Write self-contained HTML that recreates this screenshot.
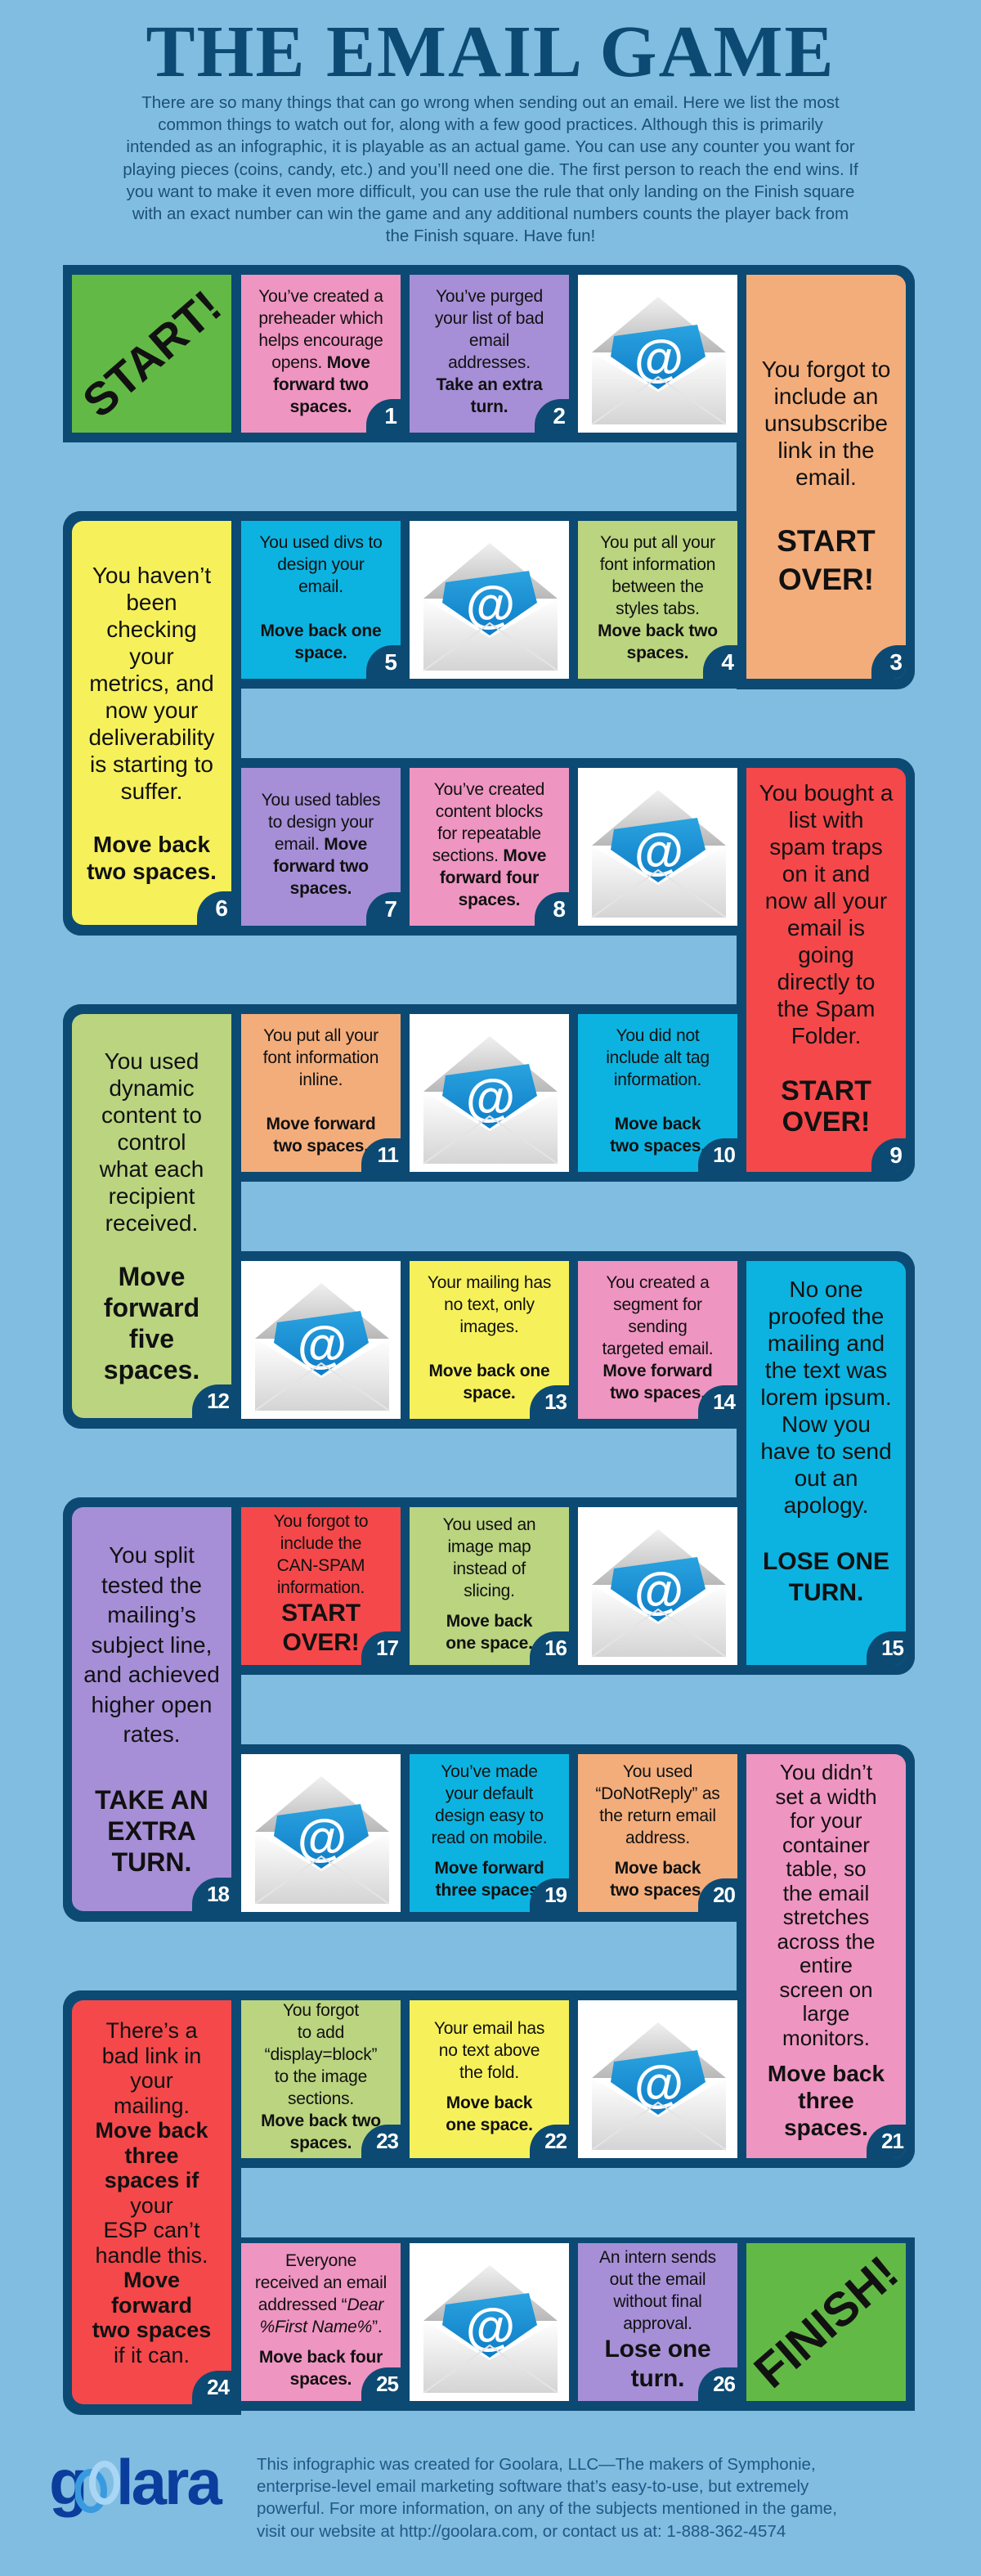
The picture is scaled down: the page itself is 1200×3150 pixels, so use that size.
<!DOCTYPE html>
<html><head><meta charset="utf-8">
<style>
*{margin:0;padding:0;box-sizing:border-box}
body{width:1200px;height:3150px;background:#80bde1;position:relative;overflow:hidden;font-family:"Liberation Sans",sans-serif;color:#111}
.n{position:absolute;background:#0c4a73}
.c{position:absolute;width:195px;height:193px;display:flex;flex-direction:column;justify-content:center;align-items:center;text-align:center;white-space:nowrap;overflow:hidden}
.t{height:494px}
.s{font-size:21px;line-height:27px;letter-spacing:-0.2px;padding-bottom:6px}
.L{font-size:28px;line-height:33px}
.tab{position:absolute;right:0;bottom:0;width:42px;height:41px;background:#0c4a73;border-top-left-radius:32px;color:#fff;font-weight:bold;font-size:28px;line-height:41px;text-align:right;padding-right:5px;letter-spacing:-1px}
.tab.w{width:48px;padding-right:3px;font-size:26px}
.env{background:#fff}
.env svg{position:absolute;left:0;top:0}
.pk{background:#ef95c1}.pu{background:#a68fd7}.or{background:#f3ad7b}.ye{background:#f6f15b}.cy{background:#0cb3e0}.lg{background:#bbd480}.rd{background:#f5484b}.gr{background:#63b946}
.g1{margin-top:27px}
.rot{font-weight:bold;transform:rotate(-41deg);color:#111}
</style></head><body>

<div style="position:absolute;left:0;top:14px;width:1200px;text-align:center;font-family:'Liberation Serif',serif;font-weight:bold;font-size:90px;letter-spacing:2px;color:#0d4a73;line-height:100px">THE EMAIL GAME</div>
<div style="position:absolute;left:0;top:112px;width:1200px;text-align:center;font-size:20.5px;line-height:27.2px;color:#1d4f78">There are so many things that can go wrong when sending out an email. Here we list the most<br>common things to watch out for, along with a few good practices. Although this is primarily<br>intended as an infographic, it is playable as an actual game. You can use any counter you want for<br>playing pieces (coins, candy, etc.) and you’ll need one die. The first person to reach the end wins. If<br>you want to make it even more difficult, you can use the rule that only landing on the Finish square<br>with an exact number can win the game and any additional numbers counts the player back from<br>the Finish square. Have fun!</div>

<!-- bands -->
<div class="n" style="left:77px;top:324px;width:1042px;height:217px;border-top-right-radius:22px"></div>
<div class="n" style="left:901px;top:324px;width:218px;height:519px;border-radius:0 22px 22px 0"></div>
<div class="n" style="left:77px;top:625px;width:1042px;height:217px;border-radius:22px 0 22px 0"></div>
<div class="n" style="left:77px;top:625px;width:218px;height:519px;border-radius:22px 0 0 22px"></div>
<div class="n" style="left:77px;top:927px;width:1042px;height:217px;border-radius:0 22px 0 22px"></div>
<div class="n" style="left:901px;top:927px;width:218px;height:518px;border-radius:0 22px 22px 0"></div>
<div class="n" style="left:77px;top:1228px;width:1042px;height:217px;border-radius:22px 0 22px 0"></div>
<div class="n" style="left:77px;top:1228px;width:218px;height:519px;border-radius:22px 0 0 22px"></div>
<div class="n" style="left:77px;top:1530px;width:1042px;height:217px;border-radius:0 22px 0 22px"></div>
<div class="n" style="left:901px;top:1530px;width:218px;height:518px;border-radius:0 22px 22px 0"></div>
<div class="n" style="left:77px;top:1831px;width:1042px;height:217px;border-radius:22px 0 22px 0"></div>
<div class="n" style="left:77px;top:1831px;width:218px;height:519px;border-radius:22px 0 0 22px"></div>
<div class="n" style="left:77px;top:2133px;width:1042px;height:217px;border-radius:0 22px 0 22px"></div>
<div class="n" style="left:901px;top:2133px;width:218px;height:518px;border-radius:0 22px 22px 0"></div>
<div class="n" style="left:77px;top:2434px;width:1042px;height:217px;border-radius:22px 0 22px 0"></div>
<div class="n" style="left:77px;top:2434px;width:218px;height:519px;border-radius:22px 0 0 22px"></div>
<div class="n" style="left:77px;top:2736px;width:1042px;height:212px;border-radius:0 0 0 22px"></div>

<!-- ROW 0 -->
<div class="c gr" style="left:88px;top:336px"><div class="rot" style="font-size:56px">START!</div></div>
<div class="c s pk" style="left:295px;top:336px"><div>You’ve created a<br>preheader which<br>helps encourage<br>opens. <b>Move</b><br><b>forward two</b><br><b>spaces.</b></div><div class="tab">1</div></div>
<div class="c s pu" style="left:501px;top:336px"><div>You’ve purged<br>your list of bad<br>email<br>addresses.<br><b>Take an extra<br>turn.</b></div><div class="tab">2</div></div>
<div class="c env" style="left:707px;top:336px"><svg width="195" height="193" viewBox="0 0 195 193"><defs><linearGradient id="fl" x1="0" y1="0" x2="0" y2="1"><stop offset="0" stop-color="#f0f0f0"/><stop offset="1" stop-color="#b8b8b8"/></linearGradient><linearGradient id="bd" x1="0" y1="0" x2="0" y2="1"><stop offset="0" stop-color="#ffffff"/><stop offset="1" stop-color="#d4d4d4"/></linearGradient><linearGradient id="cd" x1="0" y1="0" x2="0" y2="1"><stop offset="0" stop-color="#2aa3e0"/><stop offset="1" stop-color="#0e7cc6"/></linearGradient></defs><polygon points="17,95 98,27 181,95" fill="url(#fl)"/><polygon points="44,75 146,61 156,100 98,140 40,100" fill="url(#cd)"/><text x="99" y="123" font-family="Liberation Sans,sans-serif" font-weight="bold" font-size="62" fill="#fff" text-anchor="middle">@</text><polygon points="17,95 98,143 181,95 181,183 17,183" fill="url(#bd)"/><polyline points="17,183 98,125 181,183" fill="none" stroke="#e4e4e4" stroke-width="2"/></svg></div>
<div class="c t or" style="left:913px;top:336px;border-top-right-radius:14px;border-bottom-right-radius:14px"><div class="L">You forgot to<br>include an<br>unsubscribe<br>link in the<br>email.</div><div style="font-weight:bold;font-size:37px;line-height:47px;margin-top:38px">START<br>OVER!</div><div class="tab">3</div></div>

<!-- ROW 1 -->
<div class="c t ye" style="left:88px;top:637px;border-top-left-radius:14px;border-bottom-left-radius:14px"><div class="L">You haven’t<br>been<br>checking<br>your<br>metrics, and<br>now your<br>deliverability<br>is starting to<br>suffer.</div><div class="L" style="font-weight:bold;margin-top:32px">Move back<br>two spaces.</div><div class="tab">6</div></div>
<div class="c s cy" style="left:295px;top:637px"><div>You used divs to<br>design your<br>email.</div><div class="g1"><b>Move back one<br>space.</b></div><div class="tab">5</div></div>
<div class="c env" style="left:501px;top:637px"><svg width="195" height="193" viewBox="0 0 195 193"><polygon points="17,95 98,27 181,95" fill="url(#fl)"/><polygon points="44,75 146,61 156,100 98,140 40,100" fill="url(#cd)"/><text x="99" y="123" font-family="Liberation Sans,sans-serif" font-weight="bold" font-size="62" fill="#fff" text-anchor="middle">@</text><polygon points="17,95 98,143 181,95 181,183 17,183" fill="url(#bd)"/><polyline points="17,183 98,125 181,183" fill="none" stroke="#e4e4e4" stroke-width="2"/></svg></div>
<div class="c s lg" style="left:707px;top:637px"><div>You put all your<br>font information<br>between the<br>styles tabs.<br><b>Move back two<br>spaces.</b></div><div class="tab">4</div></div>

<!-- ROW 2 -->
<div class="c s pu" style="left:295px;top:939px"><div>You used tables<br>to design your<br>email. <b>Move</b><br><b>forward two<br>spaces.</b></div><div class="tab">7</div></div>
<div class="c s pk" style="left:501px;top:939px"><div>You’ve created<br>content blocks<br>for repeatable<br>sections. <b>Move</b><br><b>forward four<br>spaces.</b></div><div class="tab">8</div></div>
<div class="c env" style="left:707px;top:939px"><svg width="195" height="193" viewBox="0 0 195 193"><polygon points="17,95 98,27 181,95" fill="url(#fl)"/><polygon points="44,75 146,61 156,100 98,140 40,100" fill="url(#cd)"/><text x="99" y="123" font-family="Liberation Sans,sans-serif" font-weight="bold" font-size="62" fill="#fff" text-anchor="middle">@</text><polygon points="17,95 98,143 181,95 181,183 17,183" fill="url(#bd)"/><polyline points="17,183 98,125 181,183" fill="none" stroke="#e4e4e4" stroke-width="2"/></svg></div>
<div class="c t rd" style="left:913px;top:939px;border-top-right-radius:14px;border-bottom-right-radius:14px;justify-content:flex-start;padding-top:14px"><div class="L">You bought a<br>list with<br>spam traps<br>on it and<br>now all your<br>email is<br>going<br>directly to<br>the Spam<br>Folder.</div><div style="font-weight:bold;font-size:34px;line-height:38px;margin-top:32px">START<br>OVER!</div><div class="tab">9</div></div>

<!-- ROW 3 -->
<div class="c t lg" style="left:88px;top:1240px;border-top-left-radius:14px;border-bottom-left-radius:14px"><div class="L">You used<br>dynamic<br>content to<br>control<br>what each<br>recipient<br>received.</div><div style="font-weight:bold;font-size:32px;line-height:38px;margin-top:30px">Move<br>forward<br>five<br>spaces.</div><div class="tab w">12</div></div>
<div class="c s or" style="left:295px;top:1240px"><div>You put all your<br>font information<br>inline.</div><div class="g1"><b>Move forward<br>two spaces.</b></div><div class="tab w">11</div></div>
<div class="c env" style="left:501px;top:1240px"><svg width="195" height="193" viewBox="0 0 195 193"><polygon points="17,95 98,27 181,95" fill="url(#fl)"/><polygon points="44,75 146,61 156,100 98,140 40,100" fill="url(#cd)"/><text x="99" y="123" font-family="Liberation Sans,sans-serif" font-weight="bold" font-size="62" fill="#fff" text-anchor="middle">@</text><polygon points="17,95 98,143 181,95 181,183 17,183" fill="url(#bd)"/><polyline points="17,183 98,125 181,183" fill="none" stroke="#e4e4e4" stroke-width="2"/></svg></div>
<div class="c s cy" style="left:707px;top:1240px"><div>You did not<br>include alt tag<br>information.</div><div class="g1"><b>Move back<br>two spaces.</b></div><div class="tab w">10</div></div>

<!-- ROW 4 -->
<div class="c env" style="left:295px;top:1542px"><svg width="195" height="193" viewBox="0 0 195 193"><polygon points="17,95 98,27 181,95" fill="url(#fl)"/><polygon points="44,75 146,61 156,100 98,140 40,100" fill="url(#cd)"/><text x="99" y="123" font-family="Liberation Sans,sans-serif" font-weight="bold" font-size="62" fill="#fff" text-anchor="middle">@</text><polygon points="17,95 98,143 181,95 181,183 17,183" fill="url(#bd)"/><polyline points="17,183 98,125 181,183" fill="none" stroke="#e4e4e4" stroke-width="2"/></svg></div>
<div class="c s ye" style="left:501px;top:1542px"><div>Your mailing has<br>no text, only<br>images.</div><div class="g1"><b>Move back one<br>space.</b></div><div class="tab w">13</div></div>
<div class="c s pk" style="left:707px;top:1542px"><div>You created a<br>segment for<br>sending<br>targeted email.<br><b>Move forward<br>two spaces.</b></div><div class="tab w">14</div></div>
<div class="c t cy" style="left:913px;top:1542px;border-top-right-radius:14px;border-bottom-right-radius:14px;justify-content:flex-start;padding-top:18px"><div class="L">No one<br>proofed the<br>mailing and<br>the text was<br>lorem ipsum.<br>Now you<br>have to send<br>out an<br>apology.</div><div style="font-weight:bold;font-size:30px;line-height:38px;margin-top:34px">LOSE ONE<br>TURN.</div><div class="tab w">15</div></div>

<!-- ROW 5 -->
<div class="c t pu" style="left:88px;top:1843px;border-top-left-radius:14px;border-bottom-left-radius:14px"><div style="font-size:28px;line-height:36.5px">You split<br>tested the<br>mailing’s<br>subject line,<br>and achieved<br>higher open<br>rates.</div><div style="font-weight:bold;font-size:32px;line-height:38px;margin-top:42px">TAKE AN<br>EXTRA<br>TURN.</div><div class="tab w">18</div></div>
<div class="c s rd" style="left:295px;top:1843px"><div>You forgot to<br>include the<br>CAN-SPAM<br>information.</div><div style="font-weight:bold;font-size:30px;line-height:36px">START<br>OVER!</div><div class="tab w">17</div></div>
<div class="c s lg" style="left:501px;top:1843px"><div>You used an<br>image map<br>instead of<br>slicing.</div><div style="margin-top:10px"><b>Move back<br>one space.</b></div><div class="tab w">16</div></div>
<div class="c env" style="left:707px;top:1843px"><svg width="195" height="193" viewBox="0 0 195 193"><polygon points="17,95 98,27 181,95" fill="url(#fl)"/><polygon points="44,75 146,61 156,100 98,140 40,100" fill="url(#cd)"/><text x="99" y="123" font-family="Liberation Sans,sans-serif" font-weight="bold" font-size="62" fill="#fff" text-anchor="middle">@</text><polygon points="17,95 98,143 181,95 181,183 17,183" fill="url(#bd)"/><polyline points="17,183 98,125 181,183" fill="none" stroke="#e4e4e4" stroke-width="2"/></svg></div>

<!-- ROW 6 -->
<div class="c env" style="left:295px;top:2145px"><svg width="195" height="193" viewBox="0 0 195 193"><polygon points="17,95 98,27 181,95" fill="url(#fl)"/><polygon points="44,75 146,61 156,100 98,140 40,100" fill="url(#cd)"/><text x="99" y="123" font-family="Liberation Sans,sans-serif" font-weight="bold" font-size="62" fill="#fff" text-anchor="middle">@</text><polygon points="17,95 98,143 181,95 181,183 17,183" fill="url(#bd)"/><polyline points="17,183 98,125 181,183" fill="none" stroke="#e4e4e4" stroke-width="2"/></svg></div>
<div class="c s cy" style="left:501px;top:2145px"><div>You’ve made<br>your default<br>design easy to<br>read on mobile.</div><div style="margin-top:10px"><b>Move forward<br>three spaces.</b></div><div class="tab w">19</div></div>
<div class="c s or" style="left:707px;top:2145px"><div>You used<br>“DoNotReply” as<br>the return email<br>address.</div><div style="margin-top:10px"><b>Move back<br>two spaces.</b></div><div class="tab w">20</div></div>
<div class="c t pk" style="left:913px;top:2145px;border-top-right-radius:14px;border-bottom-right-radius:14px;justify-content:flex-start;padding-top:8px"><div style="font-size:26px;line-height:29.5px">You didn’t<br>set a width<br>for your<br>container<br>table, so<br>the email<br>stretches<br>across the<br>entire<br>screen on<br>large<br>monitors.</div><div class="L" style="font-weight:bold;margin-top:12px">Move back<br>three<br>spaces.</div><div class="tab w">21</div></div>

<!-- ROW 7 -->
<div class="c t rd" style="left:88px;top:2446px;border-top-left-radius:14px;border-bottom-left-radius:14px;justify-content:flex-start;padding-top:22px"><div style="font-size:27px;line-height:30.5px">There’s a<br>bad link in<br>your<br>mailing.<br><b>Move back<br>three<br>spaces if</b><br>your<br>ESP can’t<br>handle this.<br><b>Move<br>forward<br>two spaces</b><br>if it can.</div><div class="tab w">24</div></div>
<div class="c s lg" style="left:295px;top:2446px"><div>You forgot<br>to add<br>“display=block”<br>to the image<br>sections.<br><b>Move back two<br>spaces.</b></div><div class="tab w">23</div></div>
<div class="c s ye" style="left:501px;top:2446px"><div>Your email has<br>no text above<br>the fold.</div><div style="margin-top:10px"><b>Move back<br>one space.</b></div><div class="tab w">22</div></div>
<div class="c env" style="left:707px;top:2446px"><svg width="195" height="193" viewBox="0 0 195 193"><polygon points="17,95 98,27 181,95" fill="url(#fl)"/><polygon points="44,75 146,61 156,100 98,140 40,100" fill="url(#cd)"/><text x="99" y="123" font-family="Liberation Sans,sans-serif" font-weight="bold" font-size="62" fill="#fff" text-anchor="middle">@</text><polygon points="17,95 98,143 181,95 181,183 17,183" fill="url(#bd)"/><polyline points="17,183 98,125 181,183" fill="none" stroke="#e4e4e4" stroke-width="2"/></svg></div>

<!-- ROW 8 -->
<div class="c s pk" style="left:295px;top:2743px"><div>Everyone<br>received an email<br>addressed “<i>Dear</i><br><i>%First Name%</i>”.</div><div style="margin-top:10px"><b>Move back four<br>spaces.</b></div><div class="tab w">25</div></div>
<div class="c env" style="left:501px;top:2743px"><svg width="195" height="193" viewBox="0 0 195 193"><polygon points="17,95 98,27 181,95" fill="url(#fl)"/><polygon points="44,75 146,61 156,100 98,140 40,100" fill="url(#cd)"/><text x="99" y="123" font-family="Liberation Sans,sans-serif" font-weight="bold" font-size="62" fill="#fff" text-anchor="middle">@</text><polygon points="17,95 98,143 181,95 181,183 17,183" fill="url(#bd)"/><polyline points="17,183 98,125 181,183" fill="none" stroke="#e4e4e4" stroke-width="2"/></svg></div>
<div class="c s pu" style="left:707px;top:2743px"><div>An intern sends<br>out the email<br>without final<br>approval.</div><div style="font-weight:bold;font-size:30px;line-height:36px">Lose one<br>turn.</div><div class="tab w">26</div></div>
<div class="c gr" style="left:913px;top:2743px"><div class="rot" style="font-size:58px">FINISH!</div></div>

<!-- footer -->
<div style="position:absolute;left:60px;top:2990px;width:230px;height:90px">
<span style="position:absolute;left:0;top:0;font-weight:bold;font-size:78px;line-height:90px;color:#0a3d9c;letter-spacing:-2px">g</span>
<svg style="position:absolute;left:32px;top:8px" width="56" height="80" viewBox="0 0 56 80"><ellipse cx="19" cy="48" rx="16" ry="23" fill="none" stroke="#3a9ae0" stroke-width="8"/><ellipse cx="36" cy="38" rx="15" ry="23" fill="none" stroke="#a8d6f4" stroke-width="8"/></svg>
<span style="position:absolute;left:82px;top:0;font-weight:bold;font-size:78px;line-height:90px;color:#0a3d9c;letter-spacing:-3px">lara</span>
</div>
<div style="position:absolute;left:314px;top:3000px;font-size:20.5px;line-height:27.2px;color:#215786;white-space:nowrap">This infographic was created for Goolara, LLC—The makers of Symphonie,<br>enterprise-level email marketing software that’s easy-to-use, but extremely<br>powerful. For more information, on any of the subjects mentioned in the game,<br>visit our website at http://goolara.com, or contact us at: 1-888-362-4574</div>
</body></html>
